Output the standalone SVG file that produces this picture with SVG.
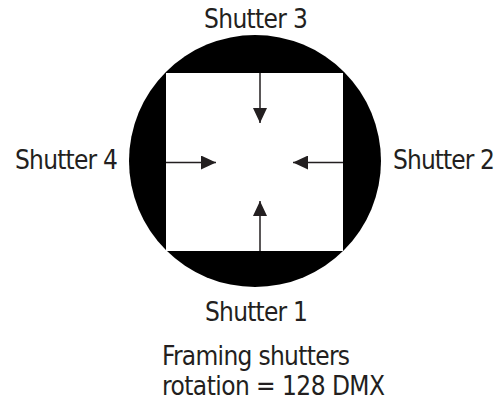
<svg xmlns="http://www.w3.org/2000/svg" width="502" height="400" viewBox="0 0 502 400">
<style>
text{font-family:"DejaVu Sans Condensed","DejaVu Sans",sans-serif;font-size:26px;fill:#231f20}
.ar{stroke:#231f20;stroke-width:1.5;fill:none}
</style>
<defs>
<marker id="ah2" markerWidth="15" markerHeight="14" refX="15" refY="7" orient="auto" markerUnits="userSpaceOnUse" viewBox="0 0 15 14">
<path d="M0,0 L15,7 L0,14 Z" fill="#231f20"/>
</marker>
</defs>
<g id="gobo">
<circle cx="255" cy="161" r="126" fill="#000"/>
<rect x="166" y="73" width="177" height="178" fill="#fff"/>
</g>
<g id="connectors">
<line class="ar" x1="260" y1="73" x2="260" y2="123" marker-end="url(#ah2)"/>
<line class="ar" x1="260" y1="251" x2="260" y2="201" marker-end="url(#ah2)"/>
<line class="ar" x1="166" y1="162.5" x2="216" y2="162.5" marker-end="url(#ah2)"/>
<line class="ar" x1="343" y1="162.5" x2="293" y2="162.5" marker-end="url(#ah2)"/>
</g>
<g id="shutter3"><text x="204" y="28" textLength="104">Shutter 3</text></g>
<g id="shutter4"><text x="15" y="169" textLength="103">Shutter 4</text></g>
<g id="shutter2"><text x="393" y="169" textLength="102">Shutter 2</text></g>
<g id="shutter1"><text x="205" y="321" textLength="103">Shutter 1</text></g>
<g id="caption">
<text x="162" y="365" textLength="188">Framing shutters</text>
<text x="162" y="395" textLength="223">rotation = 128 DMX</text>
</g>
</svg>
